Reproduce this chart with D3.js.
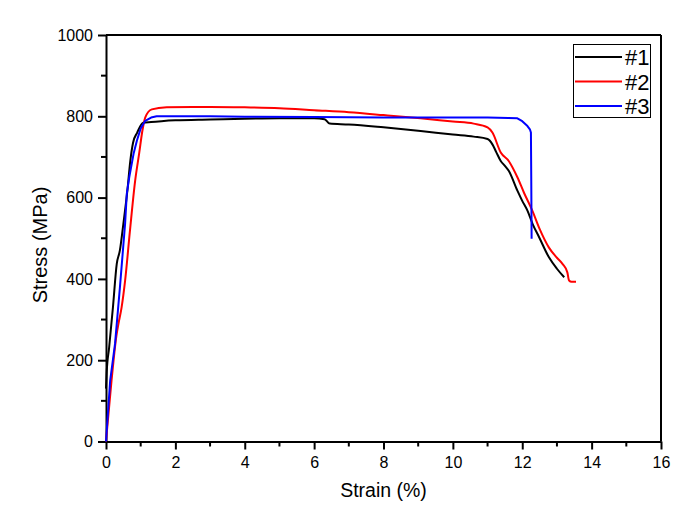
<!DOCTYPE html>
<html><head><meta charset="utf-8">
<script src="https://cdn.jsdelivr.net/npm/d3@7"></script>
<style>body{margin:0;background:#fff;} svg{display:block;font-family:"Liberation Sans",Arial,sans-serif;}</style>
</head><body>
<svg id="chart" width="692" height="517"></svg>
<script>
const seriesNames = ["#1", "#2", "#3"];
const seriesColors = ["#000000", "#ff0000", "#0000ff"];
const xTicks = [0, 2, 4, 6, 8, 10, 12, 14, 16];
const yTicks = [0, 200, 400, 600, 800, 1000];

const strain1 = [0, 0.02, 0.09, 0.2, 0.31, 0.4, 0.5, 0.62, 0.7, 0.78, 0.9, 1.07, 1.3, 1.6, 2.0, 3.0, 4.0, 5.0, 6.0, 6.3, 6.45, 7.0, 8.0, 9.07, 10.0, 10.6, 11.0, 11.14, 11.25, 11.38, 11.5, 11.61, 11.86, 12.0, 12.15, 12.3, 12.49, 12.77, 13.0, 13.21];
const stress1 = [130, 170, 231, 330, 437, 470, 535, 620, 690, 735, 760, 784, 786, 788, 790, 792, 794, 795, 795, 793, 782, 780, 773, 764, 755, 750, 744, 731, 712, 690, 678, 666, 617, 592, 568, 535, 502, 453, 425, 404];

const strain2 = [0, 0.02, 0.16, 0.3, 0.36, 0.45, 0.55, 0.69, 0.84, 0.96, 1.05, 1.13, 1.32, 1.75, 2.5, 3.0, 4.0, 5.0, 6.0, 7.0, 8.0, 9.07, 10.0, 10.6, 11.0, 11.14, 11.38, 11.61, 11.86, 12.05, 12.29, 12.5, 12.77, 13.0, 13.16, 13.3, 13.35, 13.42, 13.55];
const stress2 = [0, 20, 150, 260, 290, 330, 395, 518, 641, 711, 765, 797, 817, 822, 823, 823, 822, 820, 815, 810, 803, 795, 787, 782, 773, 760, 711, 690, 650, 612, 568, 523, 477, 452, 437, 416, 396, 393, 393];

const strain3 = [0, 0.12, 0.26, 0.4, 0.55, 0.6, 0.67, 0.8, 0.89, 1.0, 1.13, 1.3, 1.46, 2.0, 3.0, 4.0, 6.0, 8.0, 10.0, 11.0, 11.6, 11.86, 12.0, 12.15, 12.22, 12.25, 12.26, 12.27];
const stress3 = [0, 150, 240, 378, 535, 610, 650, 710, 740, 770, 789, 797, 800, 800, 800, 799, 798, 797, 797, 797, 796, 795, 788, 776, 768, 760, 640, 499];

const series = [strain1, strain2, strain3].map((xs, i) => ({
  name: seriesNames[i], color: seriesColors[i],
  pts: xs.map((x, j) => [x, [stress1, stress2, stress3][i][j]])
}));

const svg = d3.select("#chart");
const L = 106, R = 661, T = 35, B = 441.5;
const x = d3.scaleLinear().domain([0, 16]).range([L, R]);
const y = d3.scaleLinear().domain([0, 1000]).range([B, T]);

// minor ticks
const xMinor = d3.range(1, 16, 2);
const yMinor = d3.range(100, 1000, 200);
svg.append("g").selectAll("line").data(xMinor).join("line")
  .attr("x1", d => x(d)).attr("x2", d => x(d)).attr("y1", B).attr("y2", B + 5)
  .attr("stroke", "#000").attr("stroke-width", 2);
svg.append("g").selectAll("line").data(yMinor).join("line")
  .attr("x1", L - 5).attr("x2", L).attr("y1", d => y(d)).attr("y2", d => y(d))
  .attr("stroke", "#000").attr("stroke-width", 2);

const gx = svg.append("g").attr("transform", `translate(0,${B})`)
  .call(d3.axisBottom(x).tickValues(xTicks).tickSize(8).tickSizeOuter(0).tickFormat(d3.format("d")));
const gy = svg.append("g").attr("transform", `translate(${L},0)`)
  .call(d3.axisLeft(y).tickValues(yTicks).tickSize(8).tickSizeOuter(0).tickFormat(d3.format("d")));
[gx, gy].forEach(g => {
  g.select(".domain").attr("stroke", "#000").attr("stroke-width", 2);
  g.selectAll(".tick line").attr("stroke", "#000").attr("stroke-width", 2);
  g.selectAll(".tick text").attr("fill", "#000").attr("font-size", 16)
    .attr("font-family", "'Liberation Sans', Arial, sans-serif");
});
gx.selectAll(".tick text").attr("dy", "0.71em").attr("y", 15);
gy.selectAll(".tick text").attr("x", -13);

// top & right frame
svg.append("line").attr("x1", L).attr("x2", R).attr("y1", T).attr("y2", T).attr("stroke", "#000").attr("stroke-width", 2);
svg.append("line").attr("x1", R).attr("x2", R).attr("y1", T).attr("y2", B).attr("stroke", "#000").attr("stroke-width", 2);

const line = d3.line().x(d => x(d[0])).y(d => y(d[1])).curve(d3.curveMonotoneX);
const lineV = d3.line().x(d => x(d[0])).y(d => y(d[1])).curve(d3.curveLinear);
series.forEach((s, i) => {
  svg.append("path").datum(s.pts)
    .attr("d", i === 2 ? lineV : line)
    .attr("fill", "none").attr("stroke", s.color).attr("stroke-width", 2)
    .attr("stroke-linejoin", "round");
});

// axis titles
svg.append("text").attr("x", 383.5).attr("y", 497).attr("text-anchor", "middle")
  .attr("font-size", 19.5).text("Strain (%)");
svg.append("text").attr("transform", `translate(47,245) rotate(-90)`)
  .attr("text-anchor", "middle").attr("font-size", 20).text("Stress (MPa)");

// legend
const lg = svg.append("g");
lg.append("rect").attr("x", 573.5).attr("y", 44.5).attr("width", 77).attr("height", 73)
  .attr("fill", "#fff").attr("stroke", "#000").attr("stroke-width", 1);
series.forEach((s, i) => {
  const cy = 57 + i * 24.5;
  lg.append("line").attr("x1", 575).attr("x2", 622).attr("y1", cy).attr("y2", cy)
    .attr("stroke", s.color).attr("stroke-width", 2);
  lg.append("text").attr("x", 625).attr("y", cy + 8).attr("font-size", 22).text(s.name);
});
</script>
</body></html>
